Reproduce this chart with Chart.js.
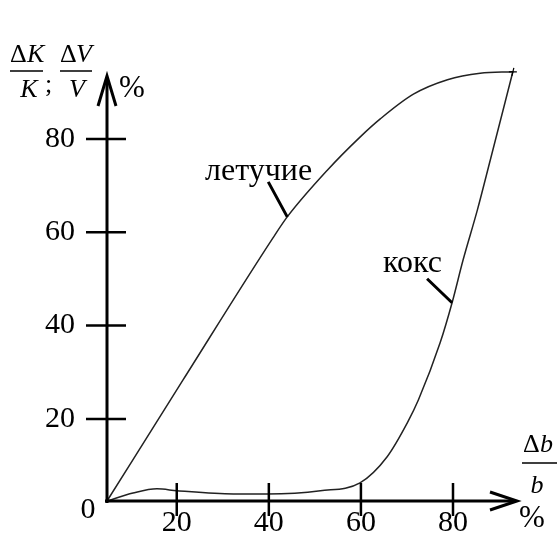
<!DOCTYPE html>
<html>
<head>
<meta charset="utf-8">
<script src="https://cdn.jsdelivr.net/npm/chart.js@4.4.1/dist/chart.umd.min.js"></script>
<style>
html, body { margin: 0; padding: 0; background: #fff; }
#wrap { width: 558px; height: 533px; }
</style>
</head>
<body>
<div id="wrap"><canvas id="c"></canvas></div>
<script>
// значения (ось X: Δb/b, %; ось Y: ΔK/K; ΔV/V, %)
const xTicks = [20, 40, 60, 80];
const yTicks = [20, 40, 60, 80];

const letuchieX = [4.85, 21.4, 40.9, 44.0, 52.7, 59.8, 64.2, 71.4, 78.8, 85.9, 93.0];
const letuchieY = [2.4, 28.4, 58.8, 63.3, 73.3, 80.4, 84.3, 89.6, 92.7, 94.1, 94.4];

const koksX = [4.85, 10.5, 15.7, 20.1, 32.3, 39.7, 51.2, 59.8, 65.7, 70.1, 72.5, 77.2, 79.8, 82.2, 85.3, 88.1, 93.0];
const koksY = [2.4, 4.1, 5.0, 4.6, 3.9, 3.9, 4.6, 6.3, 11.9, 19.2, 24.1, 36.3, 44.9, 54.1, 64.8, 75.5, 94.4];

const FONT = "'Liberation Serif', 'Times New Roman', serif";

function toPoints(xs, ys) {
    return xs.map((v, i) => ({ x: v, y: ys[i] }));
}

// оси со стрелками, засечки, подписи кривых и осей
const decor = {
    id: 'decor',
    afterDatasetsDraw(chart) {
        const { ctx, scales: { x, y } } = chart;
        const ox = x.left, oy = y.bottom;

        ctx.save();
        ctx.strokeStyle = '#000';
        ctx.fillStyle = '#000';
        ctx.lineCap = 'butt';

        // оси
        ctx.lineWidth = 3;
        ctx.beginPath();
        ctx.moveTo(ox, y.top + 2);
        ctx.lineTo(ox, oy + 2);
        ctx.moveTo(ox - 2, oy);
        ctx.lineTo(x.right - 2, oy);
        ctx.stroke();

        // стрелки
        ctx.lineJoin = 'miter';
        ctx.beginPath();
        ctx.moveTo(ox - 9, y.top + 30);
        ctx.lineTo(ox, y.top);
        ctx.lineTo(ox + 9, y.top + 30);
        ctx.moveTo(x.right - 27, oy - 9);
        ctx.lineTo(x.right, oy);
        ctx.lineTo(x.right - 27, oy + 9);
        ctx.stroke();

        // засечки
        ctx.lineWidth = 2.5;
        ctx.beginPath();
        yTicks.forEach(v => {
            const py = y.getPixelForValue(v);
            ctx.moveTo(ox - 21, py);
            ctx.lineTo(ox + 19, py);
        });
        xTicks.forEach(v => {
            const px = x.getPixelForValue(v);
            ctx.moveTo(px, oy - 18);
            ctx.lineTo(px, oy + 15);
        });
        ctx.stroke();

        // выноски
        ctx.lineWidth = 3;
        const p1 = { x: x.getPixelForValue(44.0), y: y.getPixelForValue(63.3) };
        const p2 = { x: x.getPixelForValue(79.8), y: y.getPixelForValue(44.9) };
        ctx.beginPath();
        ctx.moveTo(p1.x - 19, p1.y - 35);
        ctx.lineTo(p1.x, p1.y);
        ctx.moveTo(p2.x - 25, p2.y - 24);
        ctx.lineTo(p2.x, p2.y);
        ctx.stroke();

        // метка в точке схождения кривых
        const pe = { x: x.getPixelForValue(93.0), y: y.getPixelForValue(94.4) };
        ctx.lineWidth = 1.2;
        ctx.beginPath();
        ctx.moveTo(pe.x - 4, pe.y);
        ctx.lineTo(pe.x + 4, pe.y);
        ctx.moveTo(pe.x + 1, pe.y - 4);
        ctx.lineTo(pe.x - 1, pe.y + 4);
        ctx.stroke();

        ctx.textBaseline = 'alphabetic';
        ctx.textAlign = 'left';
        ctx.font = '32px ' + FONT;
        ctx.fillText('летучие', 205, 180);
        ctx.fillText('кокс', 383, 272);

        // ноль в начале координат
        ctx.font = '30px ' + FONT;
        ctx.textAlign = 'center';
        ctx.fillText('0', 88, 518);

        // подпись оси Y
        ctx.lineWidth = 1.5;
        ctx.beginPath();
        ctx.moveTo(10, 71); ctx.lineTo(43, 71);
        ctx.moveTo(60, 71); ctx.lineTo(92, 71);
        ctx.moveTo(522, 463); ctx.lineTo(557, 463);
        ctx.stroke();

        ctx.textAlign = 'left';
        ctx.font = '26px ' + FONT;
        ctx.fillText('Δ', 10, 62);
        ctx.fillText('Δ', 60, 62);
        ctx.fillText(';', 45, 92);
        ctx.fillText('Δ', 523, 452);
        ctx.font = 'italic 26px ' + FONT;
        ctx.fillText('K', 27, 62);
        ctx.fillText('V', 76, 62);
        ctx.fillText('b', 540, 452);
        ctx.textAlign = 'center';
        ctx.fillText('K', 29, 97);
        ctx.fillText('V', 77, 97);
        ctx.fillText('b', 537, 493);

        ctx.textAlign = 'left';
        ctx.font = '31px ' + FONT;
        ctx.fillText('%', 119, 97);
        ctx.fillText('%', 519, 527);
        ctx.restore();
    }
};

new Chart(document.getElementById('c'), {
    type: 'line',
    data: {
        datasets: [
            {
                label: 'летучие',
                data: toPoints(letuchieX, letuchieY),
                borderColor: '#222',
                borderWidth: 1.5,
                pointRadius: 0,
                cubicInterpolationMode: 'monotone',
                clip: false
            },
            {
                label: 'кокс',
                data: toPoints(koksX, koksY),
                borderColor: '#222',
                borderWidth: 1.5,
                pointRadius: 0,
                cubicInterpolationMode: 'monotone',
                clip: false
            }
        ]
    },
    options: {
        responsive: true,
        maintainAspectRatio: false,
        animation: false,
        layout: { autoPadding: false, padding: { left: 0, top: 76, right: 41, bottom: 0 } },
        plugins: {
            legend: { display: false },
            tooltip: { enabled: false }
        },
        scales: {
            x: {
                type: 'linear',
                min: 4.85,
                max: 93.9,
                afterBuildTicks: s => { s.ticks = xTicks.map(v => ({ value: v })); },
                afterFit: s => {
                    s.height = 32;
                    s.paddingLeft = 0;
                    s.paddingRight = 0;
                },
                grid: { display: false, drawTicks: false },
                border: { display: false },
                ticks: {
                    color: '#000',
                    font: { family: FONT, size: 30 },
                    padding: 4,
                    maxRotation: 0,
                    autoSkip: false
                }
            },
            y: {
                type: 'linear',
                min: 2.4,
                max: 93.5,
                afterBuildTicks: s => { s.ticks = yTicks.map(v => ({ value: v })); },
                afterFit: s => {
                    s.width = 107;
                    s.paddingTop = 0;
                    s.paddingBottom = 0;
                },
                grid: { display: false, drawTicks: false },
                border: { display: false },
                ticks: {
                    color: '#000',
                    font: { family: FONT, size: 30 },
                    padding: 32
                }
            }
        }
    },
    plugins: [decor]
});
</script>
</body>
</html>
